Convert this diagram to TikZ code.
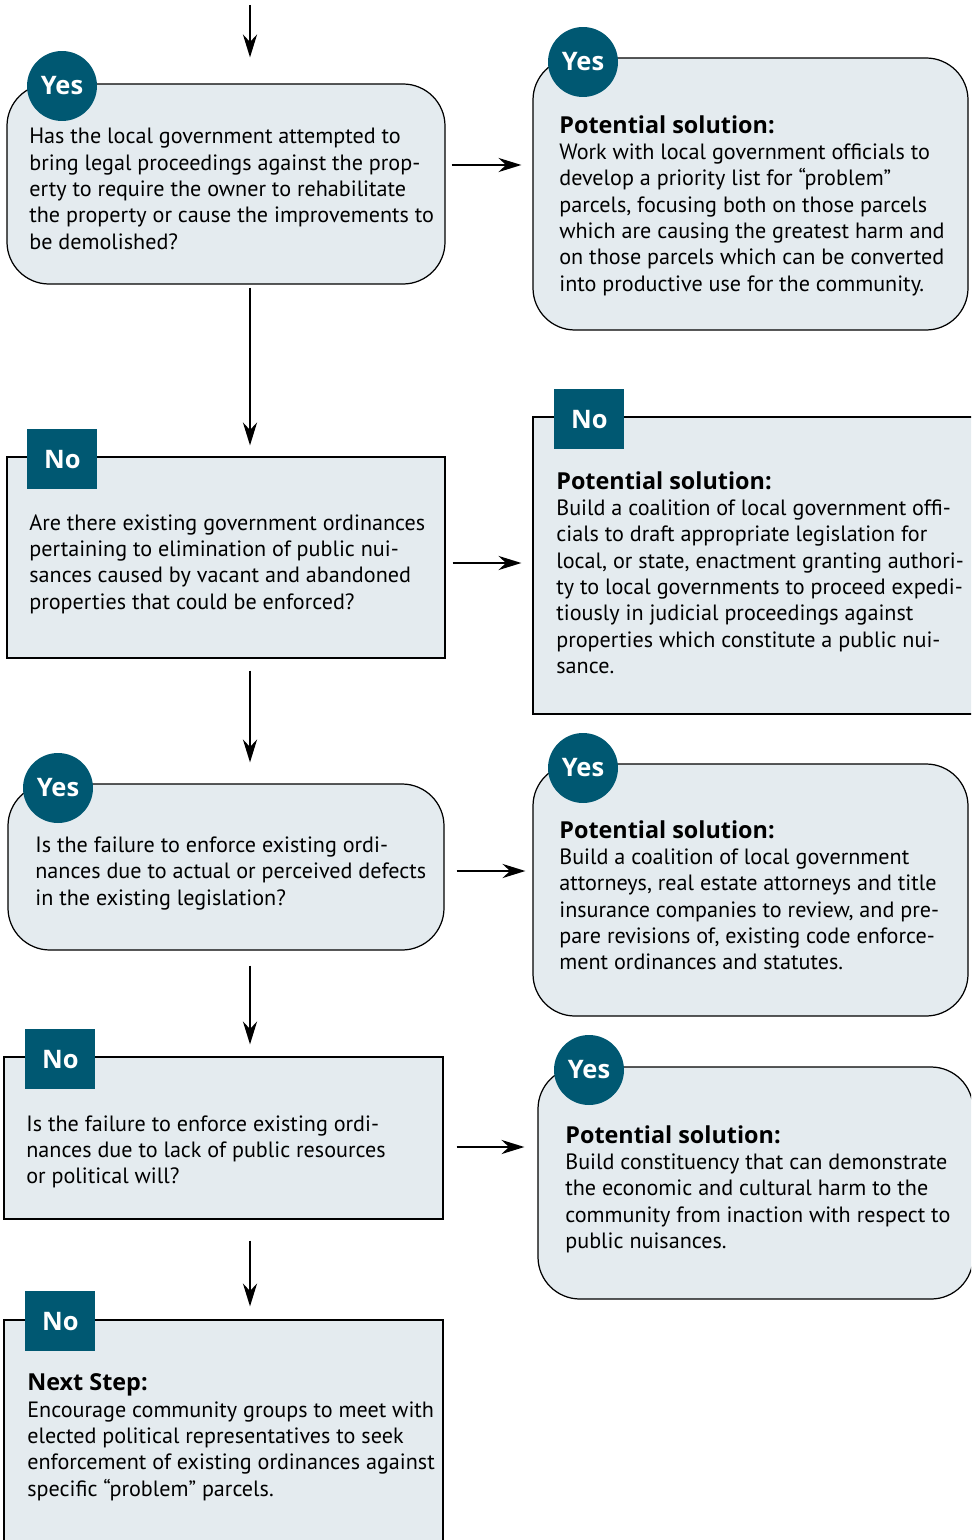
\documentclass[tikz,border=0pt]{standalone}
\usepackage{fontspec}
\setmainfont{PT Sans}
\newfontfamily\headfont{Open Sans}
\usepackage{tikz}
\usetikzlibrary{arrows.meta, fit}
\definecolor{badgeteal}{RGB}{0,88,114}
\definecolor{boxfill}{RGB}{228,235,239}
\newcommand{\boxhead}[1]{{\headfont\bfseries\fontsize{13.3}{15}\selectfont #1}}
\tikzset{
  roundbox/.style={draw=black, fill=boxfill, rounded corners=0.84cm,
    line width=0.7pt, inner sep=0pt},
  squarebox/.style={draw=black, fill=boxfill, line width=0.7pt, inner sep=0pt},
  yesbadge/.style={circle, fill=badgeteal, minimum size=1.4cm, inner sep=0pt,
    text=white, font=\headfont\bfseries\fontsize{14.5}{17}\selectfont},
  nobadge/.style={rectangle, fill=badgeteal, minimum width=1.4cm,
    minimum height=1.2cm, inner sep=0pt,
    text=white, font=\headfont\bfseries\fontsize{14.5}{17}\selectfont},
  boxtext/.style={anchor=north west, align=left, inner sep=0pt,
    font=\fontsize{12.6}{15}\selectfont},
  arrow/.style={-{Stealth[length=13pt, width=8pt]}, line width=1.5pt}
}

\begin{document}
\begin{tikzpicture}[x=0.02cm, y=-0.02cm]
  \useasboundingbox (0,0) rectangle (971,1540);
  \clip (0,0) rectangle (971,1540);

  % ── question column ──
  \node[roundbox, fit={(7,84) (445,284)}] (q1) {};
  \node[yesbadge] (q1b) at (62,86) {Yes};
  \node[boxtext] (q1t) at (29,128) {Has the local government attempted to\\
    bring legal proceedings against the prop-\\
    erty to require the owner to rehabilitate\\
    the property or cause the improvements to\\
    be demolished?};

  \node[squarebox, fit={(7,457) (445,658)}] (q2) {};
  \node[nobadge, anchor=north west] (q2b) at (27,429) {No};
  \node[boxtext] (q2t) at (29,514) {Are there existing government ordinances\\
    pertaining to elimination of public nui-\\
    sances caused by vacant and abandoned\\
    properties that could be enforced?};

  \node[roundbox, fit={(8,784) (444,950)}] (q3) {};
  \node[yesbadge] (q3b) at (58,788) {Yes};
  \node[boxtext] (q3t) at (35,836.5) {Is the failure to enforce existing ordi-\\
    nances due to actual or perceived defects\\
    in the existing legislation?};

  \node[squarebox, fit={(4,1057) (443,1219)}] (q4) {};
  \node[nobadge, anchor=north west] (q4b) at (25,1029) {No};
  \node[boxtext] (q4t) at (26,1115) {Is the failure to enforce existing ordi-\\
    nances due to lack of public resources\\
    or political will?};

  \node[squarebox, fit={(4,1320) (443,1560)}] (nx) {};
  \node[nobadge, anchor=north west] (nxb) at (25,1291) {No};
  \node[boxtext] (nxt) at (27,1373.5) {\boxhead{Next Step:}\\
    Encourage community groups to meet with\\
    elected political representatives to seek\\
    enforcement of existing ordinances against\\
    specific “problem” parcels.};

  % ── solution column ──
  \node[roundbox, fit={(533,58) (968,330)}] (s1) {};
  \node[yesbadge] (s1b) at (583,62) {Yes};
  \node[boxtext] (s1t) at (559,115) {\boxhead{Potential solution:}\\
    Work with local government officials to\\
    develop a priority list for “problem”\\
    parcels, focusing both on those parcels\\
    which are causing the greatest harm and\\
    on those parcels which can be converted\\
    into productive use for the community.};

  \node[squarebox, fit={(533,417) (975,714)}] (s2) {};
  \node[nobadge, anchor=north west] (s2b) at (554,389) {No};
  \node[boxtext] (s2t) at (556,471) {\boxhead{Potential solution:}\\
    Build a coalition of local government offi-\\
    cials to draft appropriate legislation for\\
    local, or state, enactment granting authori-\\
    ty to local governments to proceed expedi-\\
    tiously in judicial proceedings against\\
    properties which constitute a public nui-\\
    sance.};

  \node[roundbox, fit={(533,764) (968,1016)}] (s3) {};
  \node[yesbadge] (s3b) at (583,768) {Yes};
  \node[boxtext] (s3t) at (559,820) {\boxhead{Potential solution:}\\
    Build a coalition of local government\\
    attorneys, real estate attorneys and title\\
    insurance companies to review, and pre-\\
    pare revisions of, existing code enforce-\\
    ment ordinances and statutes.};

  \node[roundbox, fit={(538,1067) (973,1299)}] (s4) {};
  \node[yesbadge] (s4b) at (589,1070) {Yes};
  \node[boxtext] (s4t) at (565,1125) {\boxhead{Potential solution:}\\
    Build constituency that can demonstrate\\
    the economic and cultural harm to the\\
    community from inaction with respect to\\
    public nuisances.};

  % ── connectors ──
  \coordinate (in) at (250,5);
  \coordinate (r1) at (0,165);
  \coordinate (r2) at (0,563);
  \coordinate (r3) at (0,871);
  \coordinate (r4) at (0,1147);
  \draw[arrow, shorten >=0.52cm] (in) -- (q1.north -| in);
  \draw[arrow, shorten <=0.06cm, shorten >=0.22cm] (q1.south -| in) -- (q2.north -| in);
  \draw[arrow, shorten <=0.24cm, shorten >=0.42cm] (q2.south -| in) -- (q3.north -| in);
  \draw[arrow, shorten <=0.30cm, shorten >=0.24cm] (q3.south -| in) -- (q4.north -| in);
  \draw[arrow, shorten <=0.42cm, shorten >=0.26cm] (q4.south -| in) -- (nx.north -| in);
  \draw[arrow, shorten <=0.12cm, shorten >=0.22cm] (q1.east |- r1) -- (s1.west |- r1);
  \draw[arrow, shorten <=0.14cm, shorten >=0.22cm] (q2.east |- r2) -- (s2.west |- r2);
  \draw[arrow, shorten <=0.24cm, shorten >=0.14cm] (q3.east |- r3) -- (s3.west |- r3);
  \draw[arrow, shorten <=0.26cm, shorten >=0.26cm] (q4.east |- r4) -- (s4.west |- r4);
\end{tikzpicture}
\end{document}
